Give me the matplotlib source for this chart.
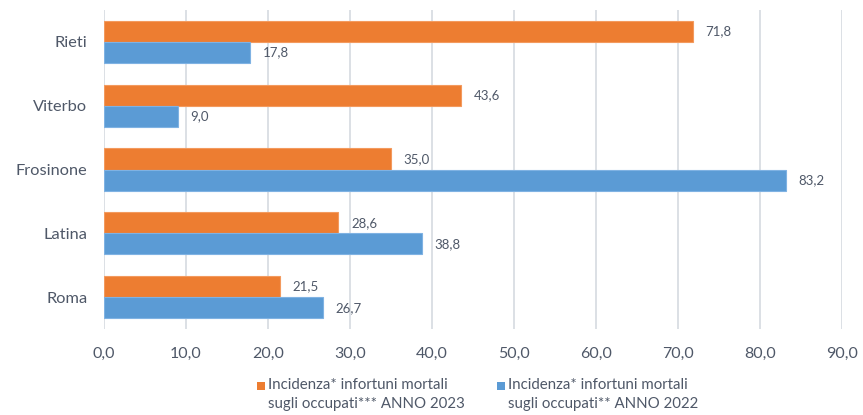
import matplotlib
matplotlib.use("Agg")
import matplotlib.pyplot as plt
from matplotlib.patches import Rectangle

categories = ["Roma", "Latina", "Frosinone", "Viterbo", "Rieti"]
values_2023 = [21.5, 28.6, 35.0, 43.6, 71.8]
values_2022 = [26.7, 38.8, 83.2, 9.0, 17.8]
xticks = [0, 10, 20, 30, 40, 50, 60, 70, 80, 90]
label_2023 = "Incidenza* infortuni mortali\nsugli occupati*** ANNO 2023"
label_2022 = "Incidenza* infortuni mortali\nsugli occupati** ANNO 2022"

plt.rcParams['font.family'] = ['Lato', 'DejaVu Sans']
txt = '#4f5868'
orange = '#ED7D31'
blue = '#5B9BD5'

W, H = 863, 415
fig = plt.figure(figsize=(W/100, H/100), dpi=100)
ax = fig.add_axes([0.1205, 0.207, 0.855, 0.769])

h = 0.33
ypos = list(range(len(categories)))
b1 = ax.barh([y + h/2 for y in ypos], values_2023, height=h, color=orange,
             edgecolor='#f39a5e', linewidth=0.8, zorder=3)
b2 = ax.barh([y - h/2 for y in ypos], values_2022, height=h, color=blue,
             edgecolor='#7fb2e3', linewidth=0.8, zorder=3)

for bars, vals in ((b1, values_2023), (b2, values_2022)):
    for rect, v in zip(bars, vals):
        ax.annotate(f"{v:.1f}".replace('.', ','),
                    (rect.get_width(), rect.get_y() + rect.get_height()/2),
                    xytext=(9, 0), textcoords='offset points',
                    ha='left', va='center', fontsize=9.5, color=txt)

ax.set_xlim(0, 90)
ax.set_ylim(-0.5, len(categories) - 0.5)
ax.set_xticks(xticks)
ax.set_xticklabels([f"{t:.1f}".replace('.', ',') for t in xticks], fontsize=11.5, color=txt)
ax.set_yticks(ypos)
ax.set_yticklabels(categories, fontsize=11.8, color=txt)
ax.tick_params(axis='both', length=0)
ax.tick_params(axis='x', pad=13)
ax.tick_params(axis='y', pad=12)
for s in ax.spines.values():
    s.set_visible(False)
ax.grid(axis='x', color='#d9dde3', linewidth=1.3, zorder=0)
ax.set_axisbelow(True)

# legend drawn manually (square aligned with first line)
for x0, col, lab in ((257, orange, label_2023), (497, blue, label_2022)):
    fig.patches.append(Rectangle((x0/W, 1 - 390/H), 8/W, 8/H, transform=fig.transFigure,
                                 facecolor=col, edgecolor='none'))
    fig.text((x0 + 11)/W, 1 - 378/H, lab, ha='left', va='top', fontsize=10.8,
             color=txt, linespacing=1.45)

fig.savefig("out.png", dpi=100)
